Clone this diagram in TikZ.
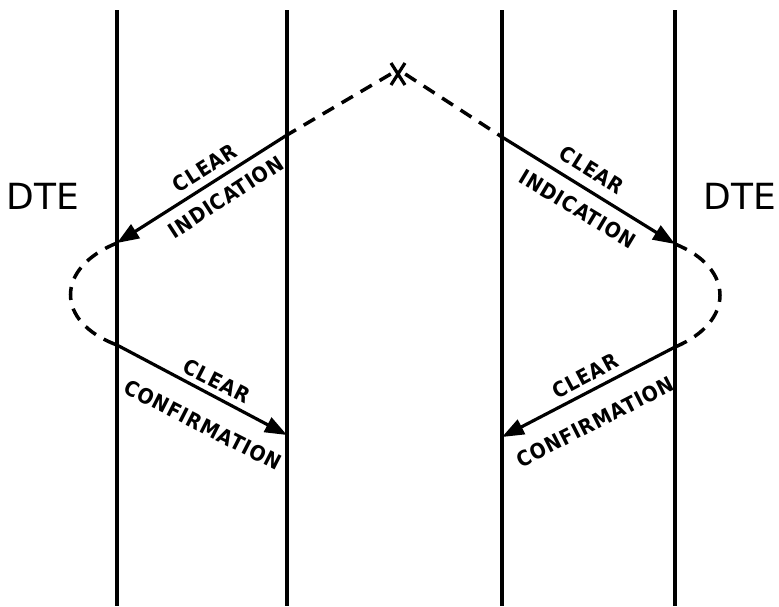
\documentclass[tikz,border=0pt]{standalone}
\usepackage{fontspec}
\setmainfont{DejaVu Sans}
\newfontfamily\lblfont{DejaVu Sans Condensed}
\usetikzlibrary{arrows.meta}
\begin{document}
\begin{tikzpicture}[x=1pt,y=-1pt,
  life/.style={line width=3.5pt},
  msg/.style={line width=3.2pt,-{Triangle[length=22pt,width=16pt]}},
  dsh/.style={line width=3.5pt,dash pattern=on 13pt off 9pt},
  lbl/.style={font=\lblfont\fontsize{21}{21}\selectfont\bfseries\addfontfeature{LetterSpace=4},inner sep=0pt},
  big/.style={font=\fontsize{36}{36}\selectfont,inner sep=0pt}]
\useasboundingbox (0,0) rectangle (779,606);
% lifelines
\coordinate (l1t) at (117,10); \coordinate (l1b) at (117,606);
\coordinate (l2t) at (287,10); \coordinate (l2b) at (287,606);
\coordinate (l3t) at (502,10); \coordinate (l3b) at (502,606);
\coordinate (l4t) at (675,10); \coordinate (l4b) at (675,606);
\draw[life] (l1t) -- (l1b);
\draw[life] (l2t) -- (l2b);
\draw[life] (l3t) -- (l3b);
\draw[life] (l4t) -- (l4b);
% points
\coordinate (a1) at (287,135); \coordinate (b1) at (117,243);
\coordinate (c1) at (117,345); \coordinate (d1) at (287,435);
\coordinate (a2) at (502,137); \coordinate (b2) at (675,244);
\coordinate (c2) at (675,347); \coordinate (d2) at (502,437);
% X
\node[inner sep=0pt,minimum size=14pt] (x) at (398,74) {};
\draw[line width=3.2pt] (391,63) -- (405,85) (405,63) -- (391,85);
\draw[dsh] (x.west) -- (a1);
\draw[dsh] (x.east) -- (a2);
% messages
\draw[msg] (a1) -- (b1);
\draw[msg] (a2) -- (b2);
\draw[dsh] (b1) .. controls (55,268) and (55,322) .. (c1);
\draw[dsh] (b2) .. controls (735,268) and (735,322) .. (c2);
\draw[msg] (c1) -- (d1);
\draw[msg] (c2) -- (d2);
% labels
\node[lbl,rotate=32.4] (t1) at (205,168) {CLEAR};
\node[lbl,rotate=33] (t2) at (226,197) {INDICATION};
\node[lbl,rotate=-32] (t3) at (592,170) {CLEAR};
\node[lbl,rotate=-31] (t4) at (578,209) {INDICATION};
\node[lbl,rotate=-27] (t5) at (217,381) {CLEAR};
\node[lbl,rotate=-27] (t6) at (203,425) {CONFIRMATION};
\node[lbl,rotate=28] (t7) at (585,376) {CLEAR};
\node[lbl,rotate=27] (t8) at (595,422) {CONFIRMATION};
\node[big] (dte1) at (43,196) {DTE};
\node[big] (dte2) at (740,196) {DTE};
\end{tikzpicture}
\end{document}
